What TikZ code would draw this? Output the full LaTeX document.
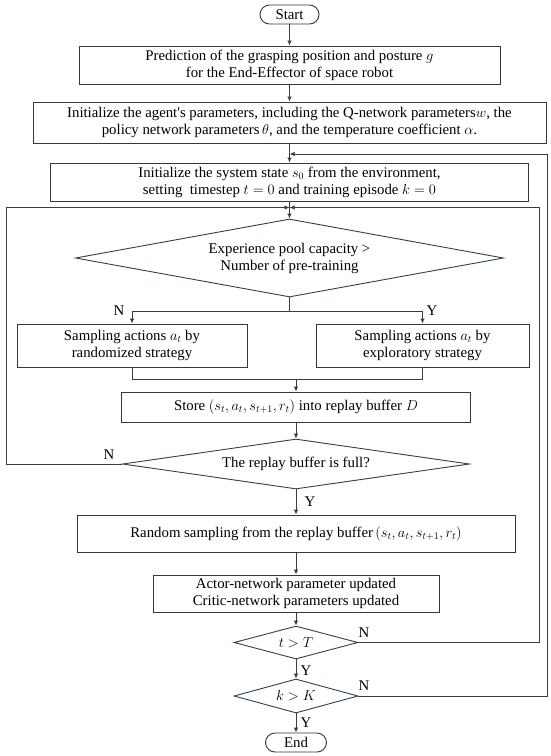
\documentclass[tikz,border=0pt]{standalone}
\usepackage{fontspec}
\setmainfont{Liberation Serif}
\usetikzlibrary{shapes.geometric,arrows.meta}
\definecolor{boxc}{RGB}{55,55,55}
\definecolor{diac}{RGB}{40,66,84}
\definecolor{linec}{RGB}{60,60,60}
\newcommand\flowfont{\fontsize{14.8}{17}\selectfont}
\begin{document}
\begin{tikzpicture}[x=1pt,y=-1pt,
  box/.style={draw=boxc, line width=0.9pt, inner sep=0pt, align=center, font=\flowfont},
  term/.style={box, rounded corners=9.5pt, minimum width=59pt, minimum height=19pt},
  dia/.style={diamond, draw=diac, line width=0.9pt, inner sep=0pt, align=center, font=\flowfont},
  conn/.style={draw=linec, line width=0.9pt},
  arr/.style={conn, -{Latex[length=5pt,width=4.5pt]}},
  lab/.style={font=\flowfont, inner sep=0pt}]
\useasboundingbox (0,0) rectangle (550,756);
\fill[white] (0,0) rectangle (550,756);
% upper axis x=289.5, lower axis x=296
\node[term] (start) at (289.5,14.5) {Start};
\node[box, minimum width=421pt, minimum height=38pt] (b1) at (289.5,65)
  {Prediction of the grasping position and posture $g$\\for the End-Effector of space robot};
\node[box, minimum width=513pt, minimum height=41pt] (b2) at (289.5,122.5)
  {Initialize the agent\textquotesingle s parameters, including the Q-network parameters$w$, the\\policy network parameters\,$\theta$, and the temperature coefficient $\alpha$.};
\node[box, minimum width=478pt, minimum height=38pt] (b3) at (289.5,182)
  {Initialize the system state $s_0$ from the environment,\\setting \ timestep $t=0$ and training episode $k=0$};
\node[dia, aspect=5.49, minimum width=428pt, minimum height=78pt] (d1) at (289.5,258)
  {Experience pool capacity >\\Number of pre-training};
\node[box, minimum width=230pt, minimum height=43pt] (lb) at (132,345.5)
  {Sampling actions $a_t$ by\\randomized strategy};
\node[box, minimum width=213pt, minimum height=43pt] (rb) at (422.5,345.5)
  {Sampling actions $a_t$ by\\exploratory strategy};
\node[box, minimum width=349pt, minimum height=30pt] (store) at (296,407)
  {Store $(s_t,a_t,s_{t+1},r_t)$ into replay buffer $D$};
\node[dia, aspect=6.94, minimum width=347pt, minimum height=50pt] (d2) at (296,464)
  {The replay buffer is full?};
\node[box, minimum width=438pt, minimum height=37pt] (rs) at (296,533.5)
  {Random sampling from the replay buffer\,$(s_t,a_t,s_{t+1},r_t)$};
\node[box, minimum width=286pt, minimum height=37pt] (actor) at (296,593.5)
  {Actor-network parameter updated\\Critic-network parameters updated};
\node[dia, aspect=3.76, minimum width=124pt, minimum height=33pt] (d3) at (296,642.5) {$t>T$};
\node[dia, aspect=3.65, minimum width=124pt, minimum height=34pt] (d4) at (296,696) {$k>K$};
\node[term, minimum width=61pt] (end) at (296,742.5) {End};
% junction coordinates
\coordinate (j1) at (289.5,154);
\coordinate (j2) at (289.5,207.5);
\coordinate (sp) at (289.5,311);
\coordinate (mg) at (296,379);
% main flow
\draw[arr] (start) -- (b1);
\draw[arr] (b1) -- (b2);
\draw[arr] (b2) -- (b3);
\draw[arr] (b3) -- (d1);
\draw[conn] (d1.south) -- (sp);
\draw[arr] (sp) -| (lb.north);
\draw[arr] (sp) -| (rb.north);
\draw[conn] (lb.south) |- (mg);
\draw[conn] (rb.south) |- (mg);
\draw[arr] (mg) -- (store);
\draw[arr] (store) -- (d2);
\draw[arr] (d2) -- (rs);
\draw[arr] (rs) -- (actor);
\draw[arr] (actor) -- (d3);
\draw[arr] (d3) -- (d4);
\draw[arr] (d4) -- (end);
% loops
\draw[arr] (d2.west) -- (6,464) -- (6,207.5) -- (j2);
\draw[arr] (d3.east) -- (539,642.5) -- (539,207.5) -- (j2);
\draw[arr] (d4.east) -- (547,696) -- (547,154) -- (j1);
% labels
\node[lab] at (119,311) {N};
\node[lab] at (432,311) {Y};
\node[lab] at (109,455) {N};
\node[lab] at (310,502) {Y};
\node[lab] at (364,633) {N};
\node[lab] at (306,671) {Y};
\node[lab] at (364,686) {N};
\node[lab] at (306,723) {Y};
\end{tikzpicture}
\end{document}
